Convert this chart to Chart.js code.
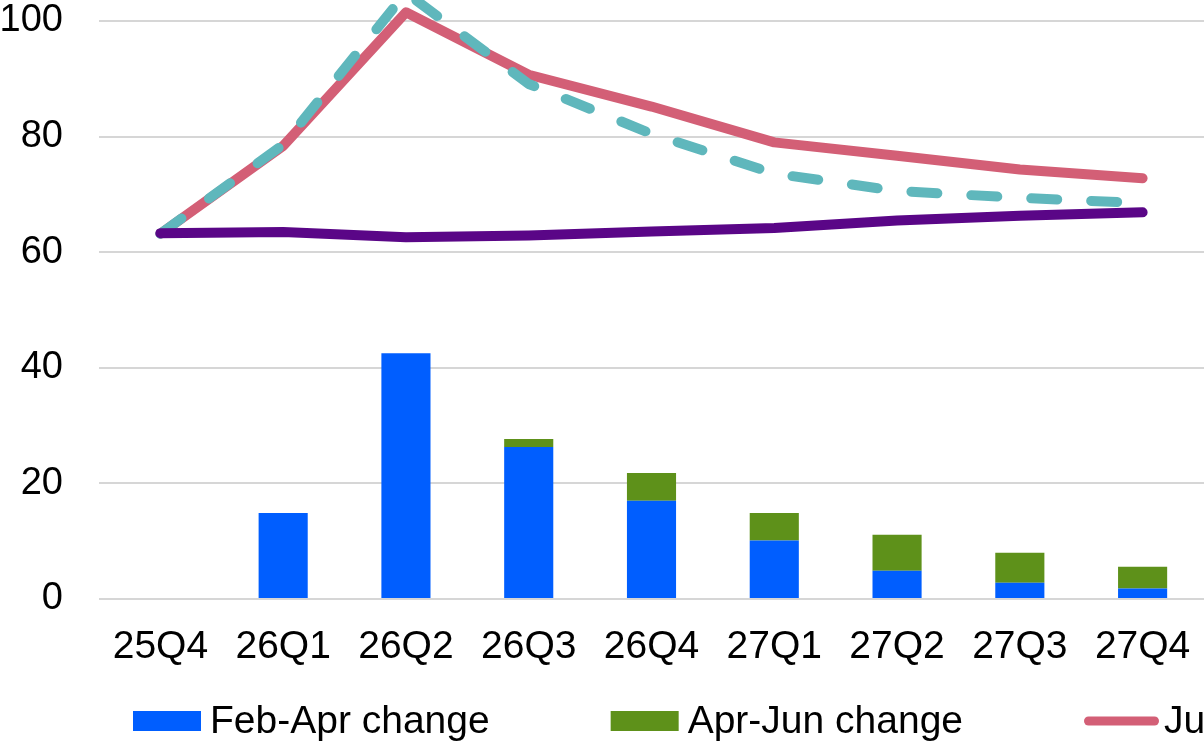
<!DOCTYPE html>
<html>
<head>
<meta charset="utf-8">
<script src="https://cdn.jsdelivr.net/npm/chart.js@4.4.1/dist/chart.umd.min.js"></script>
<style>
  html, body { margin: 0; padding: 0; background: #fff; overflow: hidden; }
  #wrap { position: relative; width: 1204px; height: 746px; }
</style>
</head>
<body>
<div id="wrap"><canvas id="c"></canvas></div>
<script>
// ---- data ----
const categories = ['25Q4', '26Q1', '26Q2', '26Q3', '26Q4', '27Q1', '27Q2', '27Q3', '27Q4'];
const febAprChange = [0, 14.9, 42.5, 26.3, 17.0, 10.1, 4.9, 2.8, 1.8];
const aprJunChange = [0, 0, -0.3, 1.4, 4.8, 4.8, 6.2, 5.2, 3.8];
const junForecast = [63.2, 78.4, 101.5, 90.7, 85.2, 79.0, 76.7, 74.3, 72.8];
const aprForecast = [63.2, 78.6, 104.9, 89.1, 80.5, 73.6, 70.6, 69.4, 68.5];
const febForecast = [63.3, 63.5, 62.6, 62.9, 63.6, 64.2, 65.5, 66.3, 66.9];
const yTicks = [0, 20, 40, 60, 80, 100];

const FONT = '"Liberation Sans", Arial, Helvetica, sans-serif';
Chart.defaults.font.family = FONT;
Chart.defaults.color = '#000';

// legend drawn on the canvas, laid out in one row and clipped by the canvas edge
const rowLegend = {
  id: 'rowLegend',
  afterDraw(chart) {
    const ctx = chart.ctx;
    ctx.save();
    ctx.font = '39px ' + FONT;
    ctx.textBaseline = 'middle';
    let x = 133;
    const y = 721;
    chart.data.datasets.forEach(ds => {
      if (ds.type === 'bar') {
        ctx.fillStyle = ds.backgroundColor;
        ctx.fillRect(x, y - 10, 68, 20);
        x += 68 + 9;
      } else {
        ctx.strokeStyle = ds.borderColor;
        ctx.lineWidth = 9;
        ctx.lineCap = 'round';
        ctx.setLineDash(ds.borderDash ? [18, 14] : []);
        ctx.beginPath();
        ctx.moveTo(x + 4.5, y);
        ctx.lineTo(x + 70.5, y);
        ctx.stroke();
        ctx.setLineDash([]);
        x += 80;
      }
      ctx.fillStyle = '#000';
      ctx.fillText(ds.label, x, y + 1);
      x += ctx.measureText(ds.label).width + 121;
    });
    ctx.restore();
  }
};

const lineCommon = {
  type: 'line',
  borderWidth: 10,
  pointRadius: 0,
  pointHoverRadius: 0,
  tension: 0,
  fill: false,
  borderCapStyle: 'round',
  borderJoinStyle: 'round',
  clip: false
};

new Chart(document.getElementById('c'), {
  data: {
    labels: categories,
    datasets: [
      { type: 'bar', label: 'Feb-Apr change', data: febAprChange, backgroundColor: '#005EFF',
        borderWidth: 0, stack: 'bars', order: 3, barPercentage: 0.8, categoryPercentage: 0.5 },
      { type: 'bar', label: 'Apr-Jun change', data: aprJunChange, backgroundColor: '#5E911A',
        borderWidth: 0, stack: 'bars', order: 3, barPercentage: 0.8, categoryPercentage: 0.5 },
      Object.assign({}, lineCommon, { label: 'Jun forecast', data: junForecast, borderColor: '#D35F76', stack: 'l1', order: 2 }),
      Object.assign({}, lineCommon, { label: 'Apr forecast', data: aprForecast, borderColor: '#5FB7BC', borderDash: [26, 34], stack: 'l2', order: 1 }),
      Object.assign({}, lineCommon, { label: 'Feb forecast', data: febForecast, borderColor: '#5A0687', stack: 'l3', order: 0 })
    ]
  },
  options: {
    responsive: true,
    maintainAspectRatio: false,
    animation: false,
    devicePixelRatio: 1,
    layout: { padding: { top: 21, right: 0, bottom: 75, left: 0 }, autoPadding: false },
    plugins: { legend: { display: false }, tooltip: { enabled: false } },
    scales: {
      x: {
        stacked: true,
        grid: { display: false, drawTicks: false },
        border: { display: false },
        ticks: { font: { size: 39, lineHeight: 1.2 }, padding: 25, maxRotation: 0, autoSkip: false, color: '#000' },
        afterFit(scale) {
          scale.height = 72;
          scale.paddingLeft = 0; scale.paddingRight = 0;
        }
      },
      y: {
        stacked: true,
        min: 0,
        max: 100,
        afterBuildTicks(scale) { scale.ticks = yTicks.map(v => ({ value: v })); },
        grid: { color: '#D6D6D6', lineWidth: 2, drawTicks: false },
        border: { display: false },
        ticks: { font: { size: 38, lineHeight: 1.0 }, padding: 36, color: '#000' },
        afterFit(scale) {
          scale.width = 99;
          scale.paddingTop = 0; scale.paddingBottom = 0;
        }
      }
    }
  },
  plugins: [rowLegend]
});
</script>
</body>
</html>
